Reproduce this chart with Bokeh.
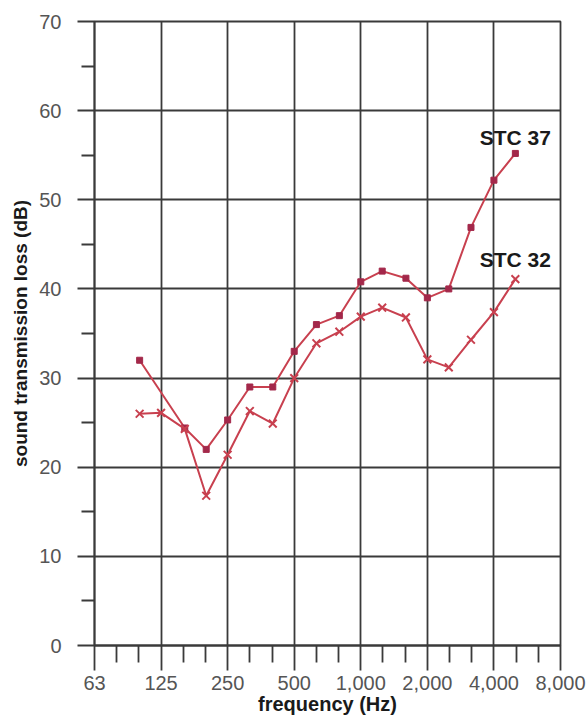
from bokeh.plotting import figure
from bokeh.models import FixedTicker, Range1d
from bokeh.core.properties import value
from bokeh.embed import file_html
from bokeh.resources import INLINE

# ---- data ----
freq_stc37 = [100, 160, 200, 250, 315, 400, 500, 630, 800, 1000, 1250, 1600, 2000, 2500, 3150, 4000, 5000]
tl_stc37 = [32, 24.4, 22, 25.3, 29, 29, 33, 36, 37, 40.8, 42, 41.2, 39, 40, 46.9, 52.2, 55.2]

freq_stc32 = [100, 125, 160, 200, 250, 315, 400, 500, 630, 800, 1000, 1250, 1600, 2000, 2500, 3150, 4000, 5000]
tl_stc32 = [26, 26.1, 24.3, 16.8, 21.4, 26.3, 24.9, 30, 33.9, 35.2, 36.9, 37.9, 36.8, 32.1, 31.2, 34.3, 37.4, 41.1]

series_labels = ["STC 37", "STC 32"]

octave_ticks = [62.5, 125, 250, 500, 1000, 2000, 4000, 8000]
octave_labels = ["63", "125", "250", "500", "1,000", "2,000", "4,000", "8,000"]
third_octave_ticks = [62.5 * 2 ** (k / 3) for k in range(1, 21) if k % 3 != 0]

db_ticks = [0, 10, 20, 30, 40, 50, 60, 70]
db_minor = [5, 15, 25, 35, 45, 55, 65]

LINE = "#c8404f"
MARK = "#a3284a"
GRID = "#3a3a3a"
FONT = "Liberation Sans"

p = figure(width=586, height=717, x_axis_type="log",
           x_range=Range1d(62.5, 8000), y_range=Range1d(0, 70),
           output_backend="svg", toolbar_location=None,
           min_border_left=94, min_border_right=26, min_border_top=21, min_border_bottom=72)

p.background_fill_color = "white"
p.outline_line_color = GRID
p.outline_line_width = 1.8

# axes
p.xaxis.ticker = FixedTicker(ticks=octave_ticks, minor_ticks=third_octave_ticks)
p.xaxis.major_label_overrides = {t: l for t, l in zip(octave_ticks, octave_labels)}
p.yaxis.ticker = FixedTicker(ticks=db_ticks, minor_ticks=db_minor)

for ax in (p.xaxis[0], p.yaxis[0]):
    ax.axis_line_color = GRID
    ax.axis_line_width = 1.8
    ax.major_tick_line_color = GRID
    ax.major_tick_line_width = 1.8
    ax.minor_tick_line_color = GRID
    ax.minor_tick_line_width = 1.8
    ax.major_tick_in = 0
    ax.minor_tick_in = 0
    ax.major_label_text_font = FONT
    ax.major_label_text_font_size = "20px"
    ax.major_label_text_color = "#555555"
    ax.axis_label_text_font = FONT
    ax.axis_label_text_font_style = "bold"
    ax.axis_label_text_color = "#1a1a1a"

p.xaxis.major_tick_out = 25
p.xaxis.minor_tick_out = 17
p.xaxis.major_label_standoff = 5
p.xaxis.axis_label = "frequency (Hz)"
p.xaxis.axis_label_text_font_size = "20px"
p.xaxis.axis_label_standoff = 0

p.yaxis.major_tick_out = 17
p.yaxis.minor_tick_out = 13
p.yaxis.major_label_standoff = 16
p.yaxis.axis_label = "sound transmission loss (dB)"
p.yaxis.axis_label_text_font_size = "19px"
p.yaxis.axis_label_standoff = 5

p.xgrid.grid_line_color = GRID
p.xgrid.grid_line_width = 1.8
p.ygrid.grid_line_color = GRID
p.ygrid.grid_line_width = 1.8

# series
p.line(freq_stc37, tl_stc37, line_color=LINE, line_width=2)
p.scatter(freq_stc37, tl_stc37, marker="square", size=6, fill_color=MARK, line_color=MARK)

p.line(freq_stc32, tl_stc32, line_color=LINE, line_width=2)
p.scatter(freq_stc32, tl_stc32, marker="x", size=11, line_color=LINE, line_width=2)

# series labels, placed above the last point of each series
p.text(x=[freq_stc37[-1], freq_stc32[-1]], y=[tl_stc37[-1], tl_stc32[-1]],
       text=series_labels, y_offset=[-16, -20],
       text_align="center", text_baseline="alphabetic",
       text_font=value(FONT), text_font_style="bold", text_font_size="21px",
       text_color="#1a1a1a")

open("out.html", "w").write(file_html(p, INLINE))
